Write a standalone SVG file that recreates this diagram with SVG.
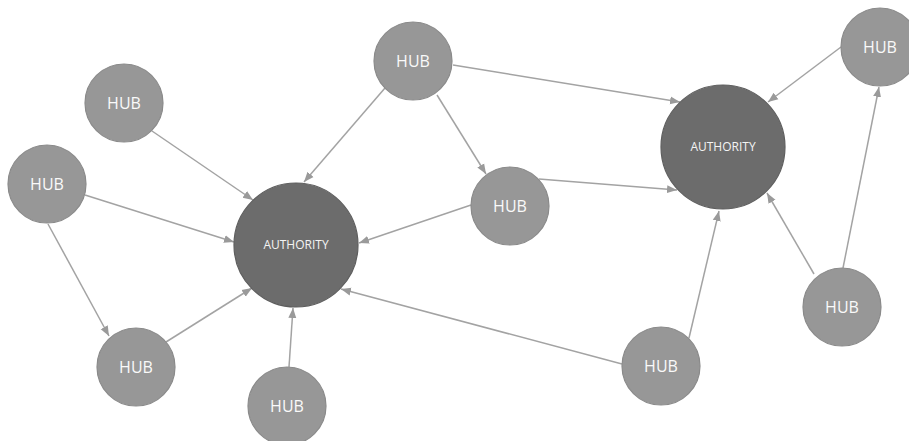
<svg xmlns="http://www.w3.org/2000/svg" width="909" height="441" viewBox="0 0 909 441">
  <style>
    .hub circle { fill: #979797; stroke: #8a8a8a; stroke-width: 1.2; }
    .auth circle { fill: #6c6c6c; stroke: #5e5e5e; stroke-width: 1.2; }
    .hub text { font-family: "Open Sans", "Noto Sans", sans-serif; font-size: 16px; fill: #fafafa; text-anchor: middle; }
    .auth text { font-family: "Open Sans", "Noto Sans", sans-serif; font-size: 12px; fill: #f4f4f4; text-anchor: middle; }
    .edges line { stroke: #a3a3a3; stroke-width: 1.5; fill: none; marker-end: url(#arrow); }
  </style>
  <defs>
    <marker id="arrow" markerUnits="userSpaceOnUse" markerWidth="10" markerHeight="10" viewBox="0 0 10 10" refX="10" refY="5" orient="auto">
      <path d="M0,1 L10,5 L0,9 z" fill="#9a9a9a"/>
    </marker>
  </defs>
  <rect width="909" height="441" fill="#ffffff"/>

  <g class="edges">
    <line x1="385" y1="88" x2="304" y2="182"/>
    <line x1="437" y1="95" x2="486" y2="174"/>
    <line x1="453" y1="65" x2="680" y2="102"/>
    <line x1="152" y1="131" x2="253" y2="200"/>
    <line x1="85" y1="195" x2="234" y2="242"/>
    <line x1="48" y1="224" x2="109" y2="336"/>
    <line x1="166" y1="342" x2="252" y2="288"/>
    <line x1="289" y1="367" x2="293" y2="308"/>
    <line x1="471" y1="205" x2="359" y2="243"/>
    <line x1="539" y1="179" x2="677" y2="190"/>
    <line x1="622" y1="364" x2="341" y2="289"/>
    <line x1="689" y1="338" x2="719" y2="211"/>
    <line x1="814" y1="274" x2="767" y2="193"/>
    <line x1="843" y1="268" x2="879" y2="87"/>
    <line x1="841" y1="47" x2="768" y2="102"/>
  </g>

  <g id="authority-left" class="auth">
    <circle cx="296" cy="245" r="62"/>
    <text x="296" y="249">AUTHORITY</text>
  </g>
  <g id="authority-right" class="auth">
    <circle cx="723" cy="147" r="62"/>
    <text x="723" y="151">AUTHORITY</text>
  </g>

  <g id="hub-top" class="hub">
    <circle cx="413" cy="61" r="39"/>
    <text x="413" y="67">HUB</text>
  </g>
  <g id="hub-upper-left" class="hub">
    <circle cx="124" cy="103" r="39"/>
    <text x="124" y="109">HUB</text>
  </g>
  <g id="hub-left" class="hub">
    <circle cx="47" cy="184" r="39"/>
    <text x="47" y="190">HUB</text>
  </g>
  <g id="hub-middle" class="hub">
    <circle cx="510" cy="206" r="39"/>
    <text x="510" y="212">HUB</text>
  </g>
  <g id="hub-top-right" class="hub">
    <circle cx="880" cy="47" r="39"/>
    <text x="880" y="53">HUB</text>
  </g>
  <g id="hub-right" class="hub">
    <circle cx="842" cy="307" r="39"/>
    <text x="842" y="313">HUB</text>
  </g>
  <g id="hub-bottom-right" class="hub">
    <circle cx="661" cy="366" r="39"/>
    <text x="661" y="372">HUB</text>
  </g>
  <g id="hub-bottom-left" class="hub">
    <circle cx="136" cy="367" r="39"/>
    <text x="136" y="373">HUB</text>
  </g>
  <g id="hub-bottom" class="hub">
    <circle cx="287" cy="406" r="39"/>
    <text x="287" y="412">HUB</text>
  </g>
</svg>
